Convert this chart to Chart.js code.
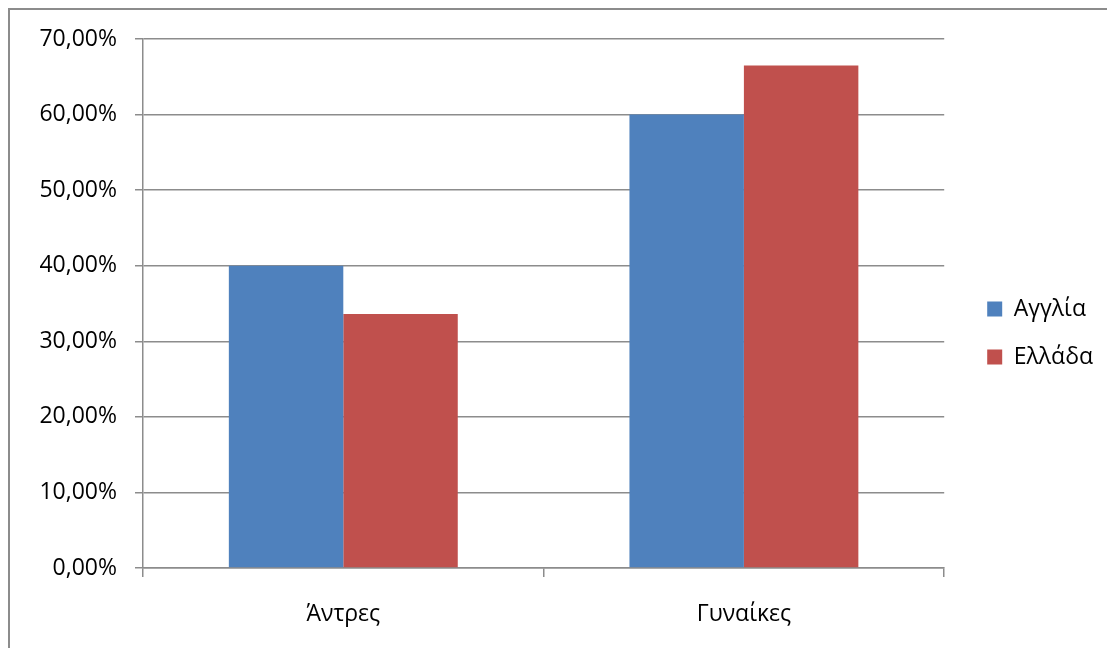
<!DOCTYPE html>
<html>
<head>
<meta charset="utf-8">
<script src="https://cdn.jsdelivr.net/npm/chart.js@4"></script>
<style>
  body { margin: 0; background: #fff; overflow: hidden; }
  #frame {
    position: absolute;
    left: 8px;
    top: 8px;
    width: 1110px;
    height: 647px;
    border: 2px solid #8c8c8c;
  }
</style>
</head>
<body>
<div id="frame"><canvas id="myChart"></canvas></div>
<script>
// categories and series
var categories = ['Άντρες', 'Γυναίκες'];
var seriesNames = ['Αγγλία', 'Ελλάδα'];
var englandValues = [40, 60];
var greeceValues = [33.6, 66.5];
var yTicks = [0, 10, 20, 30, 40, 50, 60, 70];

var gridColor = '#8c8c8c';
var fontFamily = '"Open Sans", sans-serif';

// nudge the legend a bit away from the plot
var legendShift = {
  id: 'legendShift',
  afterLayout: function (chart) {
    chart.legend.left += 18;
    chart.legend.right += 18;
    chart.legend.top -= 15;
    chart.legend.bottom -= 15;
  }
};

var ctx = document.getElementById('myChart').getContext('2d');
var myChart = new Chart(ctx, {
  type: 'bar',
  data: {
    labels: categories,
    datasets: [{
      label: seriesNames[0],
      data: englandValues,
      backgroundColor: '#4f81bd'
    }, {
      label: seriesNames[1],
      data: greeceValues,
      backgroundColor: '#c0504d'
    }]
  },
  options: {
    responsive: true,
    maintainAspectRatio: false,
    animation: false,
    categoryPercentage: 2 / 3.5,
    barPercentage: 1,
    layout: {
      padding: { top: 29, right: 35, bottom: 0, left: 0 }
    },
    plugins: {
      legend: {
        position: 'right',
        labels: {
          color: '#000',
          font: { family: fontFamily, size: 23 },
          boxWidth: 15,
          boxHeight: 15,
          padding: 25
        }
      },
      tooltip: { enabled: false }
    },
    scales: {
      x: {
        afterFit: function (scale) { scale.height = 89; },
        grid: {
          offset: true,
          drawOnChartArea: false,
          color: gridColor,
          lineWidth: 1.5,
          tickLength: 9
        },
        border: { color: gridColor, width: 1.5 },
        ticks: {
          color: '#000',
          font: { family: fontFamily, size: 23 },
          padding: 24
        }
      },
      y: {
        min: 0,
        max: 70,
        afterFit: function (scale) {
          scale.width = 133;
          scale.paddingTop = 0;
          scale.paddingBottom = 0;
        },
        afterBuildTicks: function (scale) {
          scale.ticks = yTicks.map(function (v) { return { value: v }; });
        },
        grid: {
          color: gridColor,
          lineWidth: 1.5,
          tickLength: 8
        },
        border: { color: gridColor, width: 1.5 },
        ticks: {
          color: '#000',
          font: { family: fontFamily, size: 23 },
          padding: 18,
          callback: function (value) {
            return value.toFixed(2).replace('.', ',') + '%';
          }
        }
      }
    }
  },
  plugins: [legendShift]
});
</script>
</body>
</html>
